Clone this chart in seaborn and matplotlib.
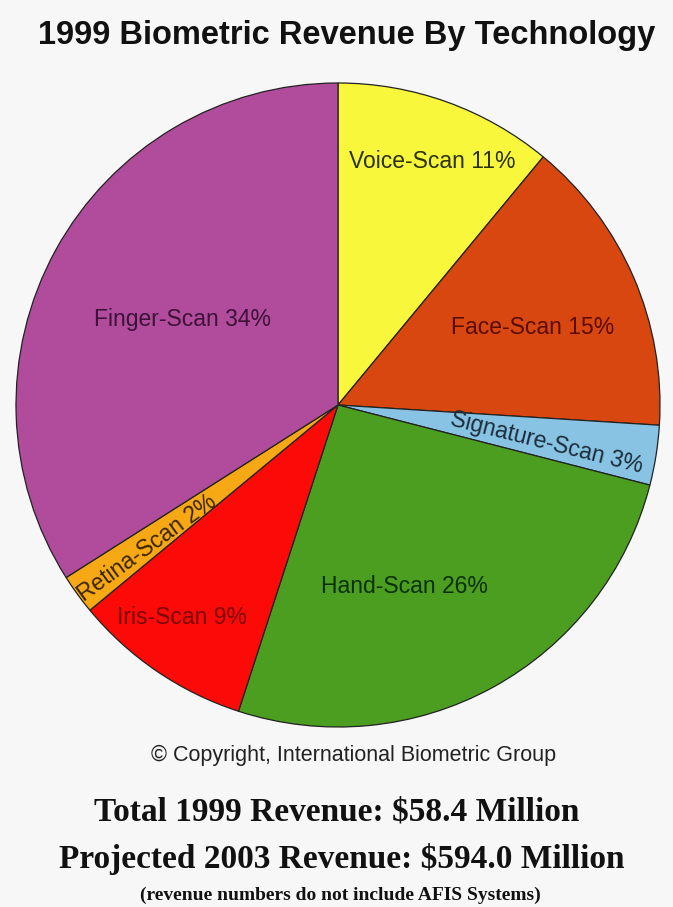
import numpy as np
import seaborn as sns
import matplotlib.pyplot as plt

# data (clockwise from 12 o'clock)
techs = ["Voice-Scan", "Face-Scan", "Signature-Scan", "Hand-Scan", "Iris-Scan", "Retina-Scan", "Finger-Scan"]
shares = [11, 15, 3, 26, 9, 2, 34]

colors = ["#f8f73c", "#d8470f", "#88c3e3", "#4b9e20", "#fc0a07", "#f6a914", "#b04c9b"]
text_colors = ["#2a3210", "#5a0c02", "#1c2c3a", "#0c3006", "#7a0504", "#3a2400", "#3c1238"]
# label placement: radius fraction, angle tweak (deg), rotation
label_r = [0.81, 0.65, 0.66, 0.60, 0.82, 0.74, 0.55]
label_dt = [-1.3, -1.8, -1.3, -8.8, -2.1, 0.8, 0.0]
label_rot = [0, 0, -14, 0, 0, 36, 0]

sns.set_theme(style="white")
plt.rcParams["font.family"] = ["Liberation Sans", "DejaVu Sans"]

bg = "#f7f7f7"
fig = plt.figure(figsize=(6.73, 9.07), dpi=100, facecolor=bg)
ax = fig.add_axes([16 / 673, (907 - 727) / 907, 644 / 673, 644 / 907])
ax.set_facecolor(bg)

wedges, _ = ax.pie(shares, colors=colors, startangle=90, counterclock=False, radius=1,
                   wedgeprops=dict(edgecolor="#222222", linewidth=0.9))
ax.set_xlim(-1, 1)
ax.set_ylim(-1, 1)
ax.set_aspect("equal")
ax.axis("off")

for w, name, v, tc, r, dt, rot in zip(wedges, techs, shares, text_colors, label_r, label_dt, label_rot):
    mid = np.deg2rad((w.theta1 + w.theta2) / 2 + dt)
    ax.text(r * np.cos(mid), r * np.sin(mid), f"{name} {v}%", ha="center", va="center",
            fontsize=16.5, color=tc, rotation=rot, rotation_mode="anchor")

fig.text(38 / 673, 1 - 44 / 907, "1999 Biometric Revenue By Technology", fontsize=23.5,
         fontweight="bold", color="#111111", ha="left", va="baseline")
fig.text(354 / 673, 1 - 755 / 907, "\u00a9 Copyright, International Biometric Group",
         fontsize=15.5, color="#222222", ha="center", va="center")
serif = ["Liberation Serif", "DejaVu Serif"]
fig.text(337 / 673, 1 - 812 / 907, "Total 1999 Revenue: $58.4 Million", fontsize=24,
         fontweight="bold", family=serif, color="#111111", ha="center", va="center")
fig.text(342 / 673, 1 - 859 / 907, "Projected 2003 Revenue: $594.0 Million", fontsize=24,
         fontweight="bold", family=serif, color="#111111", ha="center", va="center")
fig.text(340 / 673, 1 - 895 / 907, "(revenue numbers do not include AFIS Systems)", fontsize=14,
         fontweight="bold", family=serif, color="#111111", ha="center", va="center")

fig.savefig("out.png", dpi=100, facecolor=bg)
